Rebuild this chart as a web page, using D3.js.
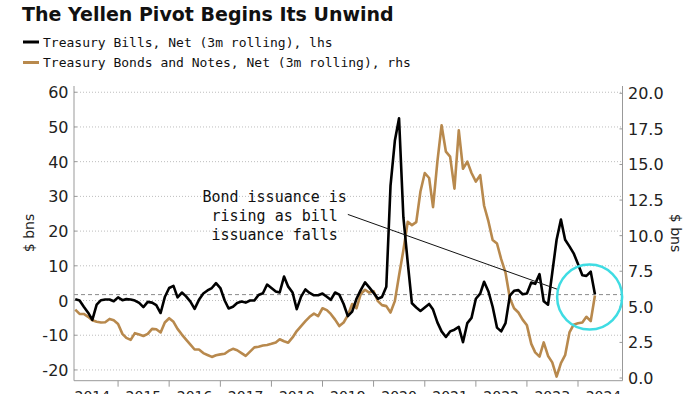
<!DOCTYPE html>
<html>
<head>
<meta charset="utf-8">
<title>The Yellen Pivot Begins Its Unwind</title>
<script src="https://d3js.org/d3.v7.min.js"></script>
<style>
  body { margin: 0; background: #fff; }
  svg { display: block; }
  .tick-label { font-family: "DejaVu Sans", sans-serif; font-size: 16px; fill: #222; }
  .mono { font-family: "DejaVu Sans Mono", monospace; fill: #111; }
</style>
</head>
<body>
<div id="chart"></div>
<script>
// monthly series, first point March 2014
const firstMonth = new Date(2014, 2, 1);

// Treasury Bills, Net (3m rolling), $ bns, left axis
const bills = [
  0.4, 0, -1.8, -3.5, -5.6, -1.2, 0.1, 0.3, 0.3, -0.2,
  0.9, 0.1, 0.4, 0.3, 0, -0.7, -1.9, -0.4, -0.6, -1.3,
  -3.6, 1.0, 3.6, 4.2, 0.9, 2.3, 1.2, -0.3, -2.4, 0.2,
  2.0, 2.9, 3.6, 5.0, 3.6, 0, -2.3, -1.8, -0.7, -0.3,
  -0.6, 0, 0, 1.6, 2.1, 4.6, 3.6, 2.6, 2.3, 6.9,
  4.0, 2.3, -2.5, 1.1, 3.2, 2.2, 1.5, 1.5, 2.0, 1.1,
  0.2, 2.3, 1.7, -1.0, -4.5, -3.2, 0.5, 3.0, 5.2, 3.8,
  2.2, 0.5, 1.0, 4.0, 33, 46, 52.5, 24, 11, -0.8,
  -2.0, -3.0, -2.0, -1.0, -2.6, -6.3, -8.9, -10.5, -8.9, -8.4,
  -7.6, -12.0, -6.5, -5.0, 0.5, 2.0, 5.4, 2.6, -1.8, -7.8,
  -8.9, -6.5, 1.4, 2.8, 3.0, 1.8, 2.0, 5.2, 4.8, 7.6,
  -0.2, -1.2, 8.0, 17.5, 23.3, 17.5, 15.6, 13.6, 10.5, 7.3,
  7.1, 8.3, 1.8
];

// Treasury Bonds and Notes, Net (3m rolling), $ bns, right axis
const bonds = [
  4.8, 4.5, 4.5, 4.3, 4.05, 3.95, 3.9, 3.92, 4.15, 4.05,
  3.8, 3.1, 2.82, 2.68, 3.15, 3.05, 2.95, 3.1, 3.45, 3.42,
  3.2, 3.9, 4.2, 3.95, 3.45, 3.05, 2.7, 2.35, 2.0, 2.0,
  1.75, 1.62, 1.48, 1.6, 1.66, 1.7, 1.9, 2.05, 1.95, 1.75,
  1.55, 1.85, 2.15, 2.2, 2.28, 2.32, 2.4, 2.5, 2.72, 2.58,
  2.48, 2.85, 3.3, 3.65, 4.0, 4.3, 4.52, 4.35, 4.9, 4.77,
  4.5, 4.1, 3.65, 3.9, 4.4, 5.2, 4.9, 5.9, 6.2, 6.0,
  6.1, 5.4, 5.12, 5.05, 4.6, 5.4, 7.2, 8.98, 10.97, 10.74,
  10.95, 13.1, 14.4, 14.05, 12.0, 15.2, 17.75, 15.9, 15.55, 13.3,
  17.4, 14.7, 15.2, 14.4, 13.8, 14.25, 12.1, 11.0, 9.7, 9.45,
  8.35, 7.4, 5.6, 4.9, 4.6, 4.1, 3.7, 2.4, 1.8, 1.5,
  2.5, 1.55, 1.1, 0.1, 1.05, 1.6, 3.2, 3.75, 3.85, 3.9,
  4.3, 4.0, 5.8
];

const years = [2014, 2015, 2016, 2017, 2018, 2019, 2020, 2021, 2022, 2023, 2024];
const leftTicks = [-20, -10, 0, 10, 20, 30, 40, 50, 60];
const rightTicks = [0, 2.5, 5, 7.5, 10, 12.5, 15, 17.5, 20];
const refLevel = 1.7;   // dashed line, lhs

const legendLabels = [
  "Treasury Bills, Net (3m rolling), lhs",
  "Treasury Bonds and Notes, Net (3m rolling), rhs"
];
const noteLines = ["Bond issuance is", "rising as bill", "issuance falls"];

const width = 700, height = 394;
const plotL = 74, plotR = 622.5, plotT = 86, plotB = 380.7;

const svg = d3.select("#chart").append("svg")
  .attr("width", width)
  .attr("height", height);

const x = d3.scaleTime()
  .domain([new Date(2014, 1, 20), new Date(2024, 10, 14)])
  .range([plotL, plotR]);

const yL = d3.scaleLinear().domain([-23.1, 61.8]).range([plotB, plotT]);
const yR = d3.scaleLinear().domain([0, 20]).range([378, 93.3]);

const dates = bills.map((d, i) => d3.timeMonth.offset(firstMonth, i));

// gridlines
svg.append("g")
  .selectAll("line")
  .data(leftTicks)
  .join("line")
  .attr("x1", plotL).attr("x2", plotR)
  .attr("y1", d => yL(d)).attr("y2", d => yL(d))
  .attr("stroke", "#bdbdbd")
  .attr("stroke-width", 1)
  .attr("stroke-dasharray", "1,2");

svg.append("line")
  .attr("x1", plotL).attr("x2", plotR)
  .attr("y1", yL(refLevel)).attr("y2", yL(refLevel))
  .attr("stroke", "#8a8a8a")
  .attr("stroke-dasharray", "4,3");

// axes frame
svg.append("line").attr("x1", plotL).attr("x2", plotL).attr("y1", plotT).attr("y2", plotB).attr("stroke", "#999");
svg.append("line").attr("x1", plotR).attr("x2", plotR).attr("y1", plotT).attr("y2", plotB).attr("stroke", "#999");
svg.append("line").attr("x1", plotL).attr("x2", plotR).attr("y1", plotB).attr("y2", plotB).attr("stroke", "#999");

// left ticks + labels
svg.append("g").selectAll("line").data(leftTicks).join("line")
  .attr("x1", plotL).attr("x2", plotL + 3)
  .attr("y1", d => yL(d)).attr("y2", d => yL(d))
  .attr("stroke", "#999");
svg.append("g").selectAll("text").data(leftTicks).join("text")
  .attr("class", "tick-label")
  .attr("x", 68.5)
  .attr("y", d => yL(d) + 6)
  .attr("text-anchor", "end")
  .text(d => d);

// right ticks + labels
svg.append("g").selectAll("line").data(rightTicks).join("line")
  .attr("x1", plotR - 3).attr("x2", plotR)
  .attr("y1", d => yR(d)).attr("y2", d => yR(d))
  .attr("stroke", "#999");
svg.append("g").selectAll("text").data(rightTicks).join("text")
  .attr("class", "tick-label")
  .attr("x", 628)
  .attr("y", d => yR(d) + 6)
  .text(d => d.toFixed(1));

// x ticks at year starts, labels mid-year (cropped at the bottom edge, as in the source)
svg.append("g").selectAll("line").data(years.slice(1)).join("line")
  .attr("x1", d => x(new Date(d, 0, 1))).attr("x2", d => x(new Date(d, 0, 1)))
  .attr("y1", plotB).attr("y2", plotB + 6)
  .attr("stroke", "#999");
svg.append("g").selectAll("text").data(years).join("text")
  .attr("class", "tick-label")
  .style("font-size", "14px")
  .attr("x", d => x(new Date(d, 6, 1)))
  .attr("y", 400.5)
  .attr("text-anchor", "middle")
  .text(d => d);

// axis titles
svg.append("text")
  .attr("class", "tick-label")
  .style("font-size", "14px")
  .attr("transform", "translate(34,233) rotate(-90)")
  .attr("text-anchor", "middle")
  .text("$ bns");
svg.append("text")
  .attr("class", "tick-label")
  .style("font-size", "14px")
  .attr("transform", "translate(671,233) rotate(90)")
  .attr("text-anchor", "middle")
  .text("$ bns");

// lines
const bondLine = d3.line().x((d, i) => x(dates[i])).y(d => yR(d));
const billLine = d3.line().x((d, i) => x(dates[i])).y(d => yL(d));

svg.append("path")
  .datum(bonds)
  .attr("d", bondLine)
  .attr("fill", "none")
  .attr("stroke", "#b8894d")
  .attr("stroke-width", 2.6)
  .attr("stroke-linejoin", "round");

svg.append("path")
  .datum(bills)
  .attr("d", billLine)
  .attr("fill", "none")
  .attr("stroke", "#000")
  .attr("stroke-width", 2.6)
  .attr("stroke-linejoin", "round");

// annotation
svg.append("line")
  .attr("x1", x(new Date(2019, 6, 1))).attr("y1", yL(24.8))
  .attr("x2", x(new Date(2023, 7, 16))).attr("y2", yL(3.1))
  .attr("stroke", "#111")
  .attr("stroke-width", 1);

svg.append("g").selectAll("text").data(noteLines).join("text")
  .attr("class", "mono")
  .style("font-size", "15px")
  .attr("x", x(new Date(2018, 0, 24)))
  .attr("y", (d, i) => 201.5 + i * 19.2)
  .attr("text-anchor", "middle")
  .text(d => d);

svg.append("circle")
  .attr("cx", x(new Date(2024, 2, 24)))
  .attr("cy", yL(1.0))
  .attr("r", 32.5)
  .attr("fill", "none")
  .attr("stroke", "#3fdce3")
  .attr("stroke-width", 2.5);

// title + legend
svg.append("text")
  .attr("x", 22).attr("y", 21)
  .attr("font-family", "'DejaVu Sans', sans-serif")
  .attr("font-size", 19)
  .attr("font-weight", "bold")
  .attr("fill", "#111")
  .text("The Yellen Pivot Begins Its Unwind");

const legendColors = ["#000", "#b8894d"];
const lg = svg.append("g");
lg.selectAll("line").data(legendLabels).join("line")
  .attr("x1", 23).attr("x2", 39)
  .attr("y1", (d, i) => 42 + i * 20.5).attr("y2", (d, i) => 42 + i * 20.5)
  .attr("stroke", (d, i) => legendColors[i])
  .attr("stroke-width", 3);
lg.selectAll("text").data(legendLabels).join("text")
  .attr("class", "mono")
  .style("font-size", "13px")
  .attr("x", 43)
  .attr("y", (d, i) => 46.5 + i * 20.5)
  .text(d => d);
</script>
</body>
</html>
